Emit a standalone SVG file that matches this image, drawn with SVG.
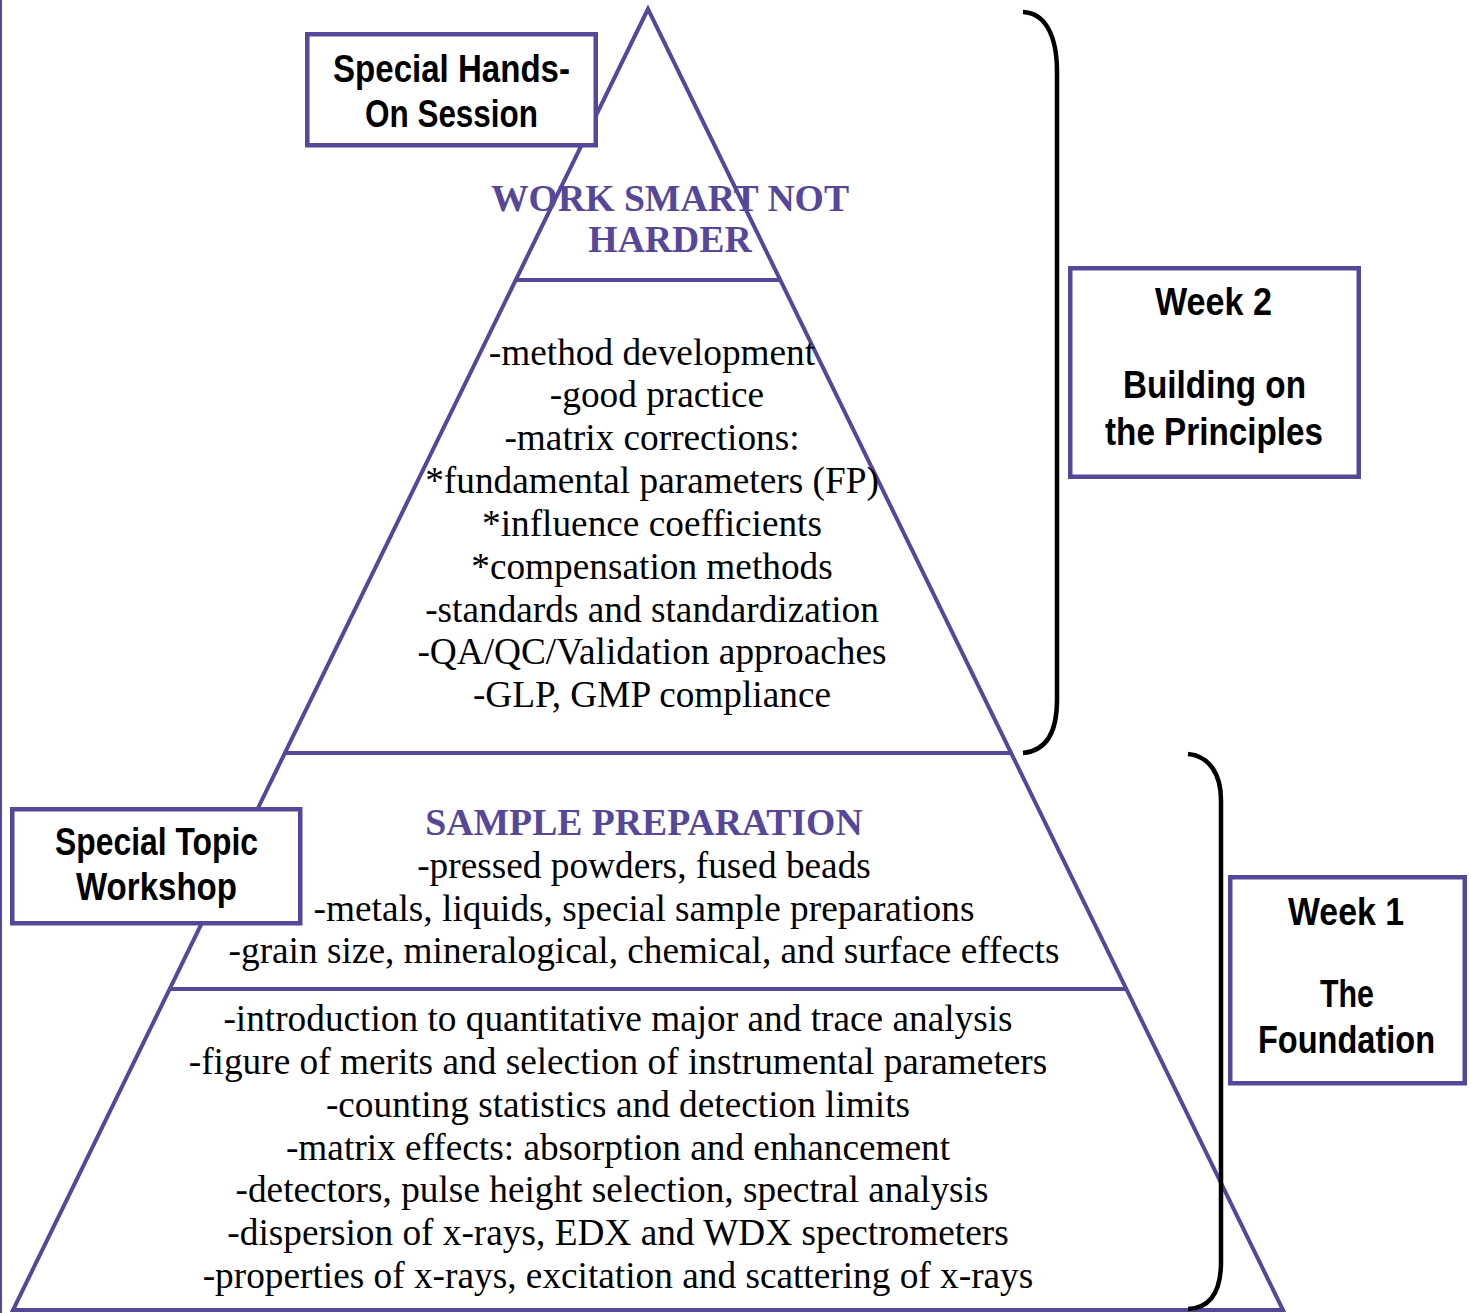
<svg xmlns="http://www.w3.org/2000/svg" width="1471" height="1313" viewBox="0 0 1471 1313">
<style>
.pur{stroke:#56479a;fill:none}
.box{stroke:#56479a;stroke-width:4.5;fill:#fff}
.br{stroke:#000;stroke-width:4.5;fill:none;stroke-linecap:butt}
.body{font-family:"Liberation Serif","Times New Roman",serif;font-size:37.3px;fill:#000;text-anchor:middle}
.head{font-family:"Liberation Serif","Times New Roman",serif;font-size:37.7px;font-weight:bold;fill:#56479a;text-anchor:middle}
.lbl{font-family:"Liberation Sans",Arial,sans-serif;font-size:39px;font-weight:bold;fill:#000;text-anchor:middle}
</style>
<rect width="1471" height="1313" fill="#fff"/>
<line x1="1" y1="0" x2="1" y2="1313" class="pur" stroke-width="2"/>
<g id="pyramid">
<polygon points="648,9 13,1310 1283,1310" class="pur" stroke-width="4"/>
<line x1="517" y1="280" x2="780" y2="280" class="pur" stroke-width="4"/>
<line x1="285" y1="753" x2="1011" y2="753" class="pur" stroke-width="4"/>
<line x1="169" y1="989" x2="1127" y2="989" class="pur" stroke-width="4"/>
</g>
<g id="tier-top">
<text class="head" x="670" y="211">WORK SMART NOT</text>
<text class="head" x="670" y="252">HARDER</text>
</g>
<g id="tier-middle">
<text class="body" x="652" y="365">-method development</text>
<text class="body" x="657" y="407">-good practice</text>
<text class="body" x="652" y="450">-matrix corrections:</text>
<text class="body" x="652" y="493">*fundamental parameters (FP)</text>
<text class="body" x="652" y="536">*influence coefficients</text>
<text class="body" x="652" y="579">*compensation methods</text>
<text class="body" x="652" y="622">-standards and standardization</text>
<text class="body" x="652" y="664">-QA/QC/Validation approaches</text>
<text class="body" x="652" y="707">-GLP, GMP compliance</text>
</g>
<g id="tier-sample">
<text class="head" x="644" y="835">SAMPLE PREPARATION</text>
<text class="body" x="644" y="878">-pressed powders, fused beads</text>
<text class="body" x="644" y="921">-metals, liquids, special sample preparations</text>
<text class="body" x="644" y="963">-grain size, mineralogical, chemical, and surface effects</text>
</g>
<g id="tier-base">
<text class="body" x="618" y="1031">-introduction to quantitative major and trace analysis</text>
<text class="body" x="618" y="1074">-figure of merits and selection of instrumental parameters</text>
<text class="body" x="618" y="1117">-counting statistics and detection limits</text>
<text class="body" x="618" y="1160">-matrix effects: absorption and enhancement</text>
<text class="body" x="612" y="1202">-detectors, pulse height selection, spectral analysis</text>
<text class="body" x="618" y="1245">-dispersion of x-rays, EDX and WDX spectrometers</text>
<text class="body" x="618" y="1288">-properties of x-rays, excitation and scattering of x-rays</text>
</g>
<g id="connectors">
<path class="br" d="M1023,12 C1045,13 1057,35 1057,72 L1057,700 C1057,735 1045,751 1023,753"/>
<path class="br" d="M1188,754 C1210,756 1221,775 1221,800 L1221,1262 C1221,1292 1210,1308 1188,1309"/>
</g>
<g id="box-handson">
<rect class="box" x="307.25" y="34.25" width="288.5" height="111"/>
<text class="lbl" x="451.5" y="82" textLength="237" lengthAdjust="spacingAndGlyphs">Special Hands-</text>
<text class="lbl" x="451.5" y="127" textLength="173" lengthAdjust="spacingAndGlyphs">On Session</text>
</g>
<g id="box-topic">
<rect class="box" x="12.25" y="809.25" width="288" height="114"/>
<text class="lbl" x="156.5" y="855" textLength="203" lengthAdjust="spacingAndGlyphs">Special Topic</text>
<text class="lbl" x="156.5" y="900" textLength="161" lengthAdjust="spacingAndGlyphs">Workshop</text>
</g>
<g id="box-week2">
<rect class="box" x="1070.25" y="268.25" width="288.5" height="208.5"/>
<text class="lbl" x="1213.5" y="315" textLength="117" lengthAdjust="spacingAndGlyphs">Week 2</text>
<text class="lbl" x="1214.5" y="398" textLength="183" lengthAdjust="spacingAndGlyphs">Building on</text>
<text class="lbl" x="1214" y="445" textLength="218" lengthAdjust="spacingAndGlyphs">the Principles</text>
</g>
<g id="box-week1">
<rect class="box" x="1230.25" y="877.25" width="234.5" height="206"/>
<text class="lbl" x="1346" y="925" textLength="116" lengthAdjust="spacingAndGlyphs">Week 1</text>
<text class="lbl" x="1347" y="1007" textLength="54" lengthAdjust="spacingAndGlyphs">The</text>
<text class="lbl" x="1346.5" y="1053" textLength="177" lengthAdjust="spacingAndGlyphs">Foundation</text>
</g>
</svg>
